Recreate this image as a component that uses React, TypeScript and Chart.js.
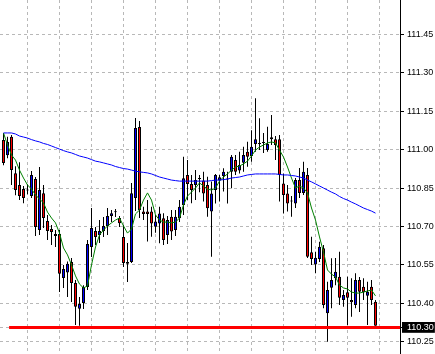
import { useEffect, useRef } from "react";
import { Chart, registerables } from "chart.js";

Chart.register(...registerables);

// Candle data (bar index 0..93)
const OPEN = [
  111.037, 110.978, 111.050, 110.908, 110.862, 110.846, 110.840, 110.819, 110.885, 110.686,
  110.830, 110.721, 110.690, 110.671, 110.671, 110.499, 110.520, 110.561, 110.479, 110.379,
  110.401, 110.464, 110.620, 110.682, 110.667, 110.682, 110.702, 110.741, 110.755, 110.733,
  110.659, 110.554, 110.561, 110.811, 111.088, 110.758, 110.758, 110.758, 110.699, 110.712,
  110.732, 110.667, 110.738, 110.686, 110.732, 110.784, 110.901, 110.866, 110.862, 110.885,
  110.879, 110.862, 110.758, 110.842, 110.879, 110.897, 110.883, 110.914, 110.959, 110.918,
  110.949, 110.992, 110.975, 111.022, 111.022, 111.026, 110.998, 111.040, 111.040, 111.040,
  110.868, 110.829, 110.797, 110.790, 110.881, 110.831, 110.901, 110.599, 110.552, 110.573,
  110.615, 110.361, 110.461, 110.498, 110.504, 110.413, 110.443, 110.413, 110.393, 110.491,
  110.465, 110.430, 110.465, 110.406,
];
const HIGH = [
  111.065, 111.050, 111.057, 110.935, 110.951, 110.858, 110.865, 110.916, 110.893, 110.932,
  110.862, 110.745, 110.706, 110.686, 110.686, 110.550, 110.563, 110.577, 110.491, 110.425,
  110.471, 110.647, 110.772, 110.698, 110.725, 110.737, 110.772, 110.764, 110.768, 110.741,
  110.706, 110.635, 110.870, 111.123, 111.112, 110.777, 110.803, 110.777, 110.745, 110.777,
  110.752, 110.741, 110.764, 110.764, 110.803, 110.972, 110.959, 110.901, 110.920, 110.901,
  110.914, 110.894, 110.875, 110.905, 110.901, 110.927, 110.914, 110.979, 110.979, 110.992,
  111.011, 111.031, 111.076, 111.200, 111.122, 111.065, 111.089, 111.135, 111.053, 111.057,
  110.907, 110.862, 110.819, 110.889, 110.928, 110.953, 110.928, 110.660, 110.601, 110.640,
  110.628, 110.484, 110.576, 110.577, 110.601, 110.452, 110.504, 110.498, 110.517, 110.503,
  110.498, 110.484, 110.491, 110.413,
];
const LOW = [
  110.939, 110.966, 110.862, 110.822, 110.803, 110.791, 110.826, 110.811, 110.663, 110.667,
  110.694, 110.647, 110.628, 110.620, 110.444, 110.460, 110.425, 110.405, 110.315, 110.312,
  110.378, 110.452, 110.581, 110.628, 110.635, 110.659, 110.667, 110.717, 110.737, 110.698,
  110.542, 110.483, 110.557, 110.760, 110.733, 110.725, 110.641, 110.660, 110.675, 110.634,
  110.628, 110.632, 110.647, 110.663, 110.717, 110.745, 110.803, 110.791, 110.803, 110.834,
  110.797, 110.738, 110.582, 110.790, 110.797, 110.836, 110.790, 110.849, 110.901, 110.907,
  110.914, 110.933, 110.953, 110.992, 110.998, 110.987, 110.992, 111.018, 110.959, 110.797,
  110.751, 110.758, 110.738, 110.772, 110.811, 110.823, 110.577, 110.550, 110.517, 110.561,
  110.381, 110.250, 110.381, 110.471, 110.393, 110.387, 110.315, 110.348, 110.381, 110.366,
  110.413, 110.315, 110.393, 110.312,
];
const CLOSE = [
  110.948, 111.030, 110.920, 110.842, 110.819, 110.811, 110.842, 110.901, 110.698, 110.842,
  110.733, 110.682, 110.678, 110.663, 110.515, 110.534, 110.554, 110.479, 110.387, 110.397,
  110.464, 110.632, 110.694, 110.659, 110.682, 110.702, 110.741, 110.752, 110.756, 110.713,
  110.557, 110.561, 110.830, 111.084, 110.764, 110.749, 110.749, 110.712, 110.719, 110.751,
  110.647, 110.725, 110.680, 110.738, 110.777, 110.888, 110.866, 110.842, 110.881, 110.889,
  110.829, 110.771, 110.829, 110.901, 110.892, 110.914, 110.885, 110.972, 110.914, 110.940,
  110.979, 110.972, 111.011, 111.040, 111.024, 111.030, 111.022, 111.048, 111.018, 110.901,
  110.823, 110.790, 110.799, 110.881, 110.831, 110.914, 110.582, 110.573, 110.578, 110.621,
  110.393, 110.452, 110.491, 110.523, 110.422, 110.432, 110.422, 110.404, 110.491, 110.445,
  110.443, 110.445, 110.413, 110.312,
];

// Moving averages
const FAST_MA = [
  111.065, 111.018, 110.979, 110.959, 110.920, 110.889, 110.862, 110.846, 110.823, 110.807,
  110.792, 110.756, 110.733, 110.714, 110.674, 110.616, 110.589, 110.550, 110.507, 110.475,
  110.460, 110.468, 110.550, 110.620, 110.667, 110.686, 110.702, 110.714, 110.725, 110.733,
  110.702, 110.674, 110.690, 110.749, 110.764, 110.803, 110.831, 110.803, 110.745, 110.725,
  110.717, 110.717, 110.714, 110.717, 110.733, 110.784, 110.819, 110.834, 110.850, 110.870,
  110.858, 110.846, 110.842, 110.850, 110.877, 110.893, 110.905, 110.920, 110.932, 110.936,
  110.944, 110.955, 110.975, 110.998, 111.010, 111.018, 111.026, 111.030, 111.026, 110.998,
  110.971, 110.932, 110.889, 110.850, 110.858, 110.850, 110.831, 110.772, 110.725, 110.659,
  110.600, 110.530, 110.514, 110.503, 110.471, 110.460, 110.456, 110.444, 110.440, 110.440,
  110.444, 110.448, 110.452, 110.429,
];
const SLOW_MA = [
  111.065, 111.065, 111.065, 111.061, 111.053, 111.049, 111.045, 111.039, 111.034, 111.030,
  111.024, 111.020, 111.014, 111.008, 111.002, 110.996, 110.991, 110.987, 110.981, 110.975,
  110.971, 110.967, 110.961, 110.955, 110.952, 110.948, 110.944, 110.940, 110.934, 110.930,
  110.926, 110.924, 110.920, 110.916, 110.913, 110.911, 110.909, 110.905, 110.899, 110.893,
  110.889, 110.885, 110.881, 110.879, 110.877, 110.877, 110.877, 110.877, 110.877, 110.877,
  110.877, 110.877, 110.879, 110.881, 110.881, 110.883, 110.885, 110.889, 110.891, 110.893,
  110.897, 110.901, 110.903, 110.905, 110.905, 110.905, 110.905, 110.905, 110.905, 110.903,
  110.901, 110.901, 110.899, 110.897, 110.893, 110.889, 110.881, 110.874, 110.866, 110.858,
  110.850, 110.842, 110.834, 110.827, 110.817, 110.809, 110.803, 110.795, 110.788, 110.780,
  110.772, 110.766, 110.760, 110.752,
];

// Axis ticks
const PRICE_TICKS = [110.25, 110.4, 110.55, 110.7, 110.85, 111.0, 111.15, 111.3, 111.45];
const TIME_GRID = [6, 14, 22, 30, 38, 46, 54, 62, 70, 78, 86, 94];

// Horizontal level line
const LEVEL = 110.306;
const LEVEL_LABEL = "110.30";
const LEVEL_FROM = 1.4;

const X_MIN = -0.875;
const X_MAX = 99.125;
const Y_MIN = 110.2022;
const Y_MAX = 111.5839;

const GRID = "#b8b8b8";

export default function App() {
  const ref = useRef<HTMLCanvasElement>(null);

  useEffect(() => {
    const idx = OPEN.map((_, i) => i);
    const bodyColors = idx.map((i) =>
      Math.abs(CLOSE[i] - OPEN[i]) < 0.003 ? "#000000" : CLOSE[i] > OPEN[i] ? "#0000ff" : "#ff0000"
    );
    const chart = new Chart(ref.current as HTMLCanvasElement, {
      type: "bar",
      data: {
        datasets: [
          {
            type: "line",
            label: "level",
            data: [
              { x: LEVEL_FROM, y: LEVEL },
              { x: X_MAX, y: LEVEL },
            ],
            borderColor: "#ff0000",
            borderWidth: 3,
            pointRadius: 0,
            order: 0,
          } as any,
          {
            type: "line",
            label: "slow",
            data: idx.map((i) => ({ x: i, y: SLOW_MA[i] })),
            borderColor: "#0000ff",
            borderWidth: 1,
            pointRadius: 0,
            tension: 0,
            order: 1,
          } as any,
          {
            type: "line",
            label: "fast",
            data: idx.map((i) => ({ x: i, y: FAST_MA[i] })),
            borderColor: "#008000",
            borderWidth: 1,
            pointRadius: 0,
            tension: 0,
            order: 1,
          } as any,
          {
            type: "bar",
            label: "body",
            data: idx.map((i) => ({ x: i, y: [OPEN[i], CLOSE[i]] })),
            backgroundColor: bodyColors,
            borderColor: "#000000",
            borderWidth: 1,
            borderSkipped: false,
            barThickness: 3,
            grouped: false,
            minBarLength: 1,
            inflateAmount: 0,
            order: 3,
          } as any,
          {
            type: "bar",
            label: "wick",
            data: idx.map((i) => ({ x: i, y: [LOW[i], HIGH[i]] })),
            backgroundColor: "#000000",
            borderWidth: 0,
            barThickness: 1,
            grouped: false,
            inflateAmount: 0,
            order: 4,
          } as any,
        ],
      },
      options: {
        responsive: false,
        animation: false,
        devicePixelRatio: 1,
        layout: { padding: 0 },
        plugins: { legend: { display: false }, tooltip: { enabled: false } },
        scales: {
          x: {
            type: "linear",
            min: X_MIN,
            max: X_MAX,
            offset: false,
            position: "bottom",
            grid: { color: GRID, offset: false, drawTicks: false, lineWidth: 1 },
            border: { display: false, dash: [3, 3] },
            ticks: { display: false },
            afterBuildTicks: (s: any) => {
              s.ticks = TIME_GRID.map((v) => ({ value: v }));
            },
          },
          y: {
            type: "linear",
            position: "right",
            min: Y_MIN,
            max: Y_MAX,
            grid: {
              color: GRID,
              drawTicks: true,
              tickLength: 4,
              tickColor: "#000000",
              tickBorderDash: [],
              lineWidth: 1,
            },
            border: { display: true, color: "#000000", width: 1, dash: [3, 3] },
            ticks: {
              autoSkip: false,
              padding: 3,
              font: { family: "'Liberation Sans', Arial, sans-serif", size: 9 },
              color: (c: any) => (c.tick && c.tick.value === LEVEL ? "#ffffff" : "#000000"),
              showLabelBackdrop: (c: any) => !!(c.tick && c.tick.value === LEVEL),
              backdropColor: "#000000",
              backdropPadding: { top: 0, bottom: 0, left: 5, right: 1 },
              callback: (v: any) => (v === LEVEL ? LEVEL_LABEL : Number(v).toFixed(2)),
            } as any,
            afterBuildTicks: (s: any) => {
              s.ticks = [...PRICE_TICKS, LEVEL].sort((a, b) => a - b).map((v) => ({ value: v }));
            },
            afterFit: (s: any) => {
              s.width = 35;
              s.paddingTop = 0;
              s.paddingBottom = 0;
            },
          },
        },
      } as any,
    });
    return () => chart.destroy();
  }, []);

  return (
    <div style={{ position: "fixed", left: 0, top: 0, width: 435, height: 354, background: "#ffffff" }}>
      <canvas ref={ref} width={435} height={354} style={{ display: "block", width: 435, height: 354 }} />
    </div>
  );
}
